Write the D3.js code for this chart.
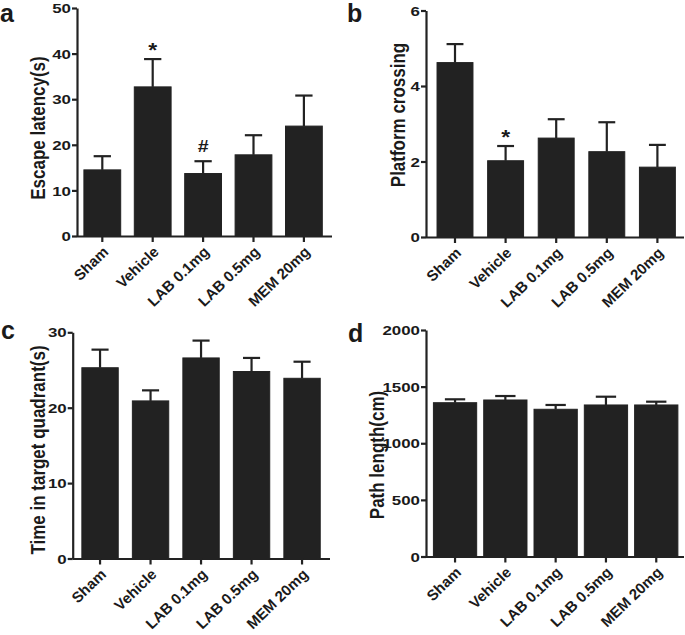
<!DOCTYPE html>
<html>
<head>
<meta charset="utf-8">
<script src="https://cdn.jsdelivr.net/npm/d3@7"></script>
<style>
  body { margin: 0; background: #fff; }
  svg { display: block; }
  text { font-family: "Liberation Sans", Arial, Helvetica, sans-serif; font-weight: bold; fill: #1a1a1a; }
</style>
</head>
<body>
<svg id="chart" width="685" height="635"></svg>
<script>
// ---------------- data ----------------
const categories = ["Sham", "Vehicle", "LAB 0.1mg", "LAB 0.5mg", "MEM 20mg"];

const escapeMean = [14.5, 32.7, 13.7, 17.8, 24.1];
const escapeErr  = [3.0, 6.1, 2.7, 4.3, 6.7];
const escapeTicks = [0, 10, 20, 30, 40, 50];

const crossingMean = [4.62, 2.02, 2.62, 2.26, 1.85];
const crossingErr  = [0.49, 0.39, 0.50, 0.78, 0.59];
const crossingTicks = [0, 2, 4, 6];

const quadrantMean = [25.3, 20.9, 26.6, 24.8, 23.9];
const quadrantErr  = [2.4, 1.4, 2.3, 1.8, 2.2];
const quadrantTicks = [0, 10, 20, 30];

const pathMean = [1358, 1382, 1300, 1338, 1338];
const pathErr  = [30, 35, 38, 73, 29];
const pathTicks = [0, 500, 1000, 1500, 2000];

// significance marks: [category, symbol]
const escapeMarks = [["Vehicle", "*"], ["LAB 0.1mg", "#"]];
const crossingMarks = [["Vehicle", "*"]];

// ---------------- drawing ----------------
const svg = d3.select("#chart");
const ink = "#222222";
const FONT = '"Liberation Sans", Arial, Helvetica, sans-serif';
const SX = 1.15; // horizontal stretch of the original figure's text

function panel(opt) {
  const g = svg.append("g");
  const y = d3.scaleLinear().domain([opt.ticks[0], opt.ticks[opt.ticks.length - 1]])
    .range([opt.y0, opt.y1]);
  const x = d3.scaleBand().domain(categories)
    .range([opt.xStart, opt.xStart + opt.step * categories.length])
    .paddingInner(opt.padIn).paddingOuter(opt.padIn / 2);

  const data = categories.map((c, i) => ({ c, m: opt.mean[i], e: opt.err[i] }));

  // error bars (upper only)
  const capW = x.bandwidth() * 0.47;
  const eb = g.selectAll(".eb").data(data).enter().append("g");
  eb.append("line")
    .attr("x1", d => x(d.c) + x.bandwidth() / 2).attr("x2", d => x(d.c) + x.bandwidth() / 2)
    .attr("y1", d => y(d.m)).attr("y2", d => y(d.m + d.e))
    .attr("stroke", ink).attr("stroke-width", 2.2);
  eb.append("line")
    .attr("x1", d => x(d.c) + x.bandwidth() / 2 - capW / 2)
    .attr("x2", d => x(d.c) + x.bandwidth() / 2 + capW / 2)
    .attr("y1", d => y(d.m + d.e)).attr("y2", d => y(d.m + d.e))
    .attr("stroke", ink).attr("stroke-width", 2.2);

  // bars
  g.selectAll(".bar").data(data).enter().append("rect")
    .attr("x", d => x(d.c)).attr("width", x.bandwidth())
    .attr("y", d => y(d.m)).attr("height", d => y(0) - y(d.m))
    .attr("fill", ink).attr("stroke", ink).attr("stroke-width", 1);

  // y axis
  const ya = g.append("g").attr("transform", `translate(${opt.axisX},0)`)
    .call(d3.axisLeft(y).tickValues(opt.ticks).tickFormat(d3.format("d"))
      .tickSize(5).tickSizeOuter(0).tickPadding(1));
  ya.select(".domain").attr("stroke", ink).attr("stroke-width", 2.2);
  ya.selectAll(".tick line").attr("stroke", ink).attr("stroke-width", 2.2);
  ya.selectAll(".tick text")
    .attr("x", 0).attr("dy", "0.36em")
    .attr("transform", `translate(-6,0) scale(1.3,1)`)
    .style("font-size", "13px").attr("fill", "#1a1a1a")
    .style("font-family", FONT).style("font-weight", "bold");

  // x axis
  const xa = g.append("g").attr("transform", `translate(0,${opt.y0})`)
    .call(d3.axisBottom(x).tickSize(6).tickSizeOuter(0));
  xa.select(".domain").attr("d", `M${opt.axisX},0.5H${opt.axisEnd}`)
    .attr("stroke", ink).attr("stroke-width", 2.2);
  xa.selectAll(".tick line").attr("stroke", ink).attr("stroke-width", 2.2);
  xa.selectAll(".tick text")
    .attr("x", 0).attr("y", 0).attr("dy", 0)
    .attr("text-anchor", "end")
    .attr("transform", `translate(7,17) rotate(-44)`)
    .style("font-size", "15px").attr("fill", "#1a1a1a")
    .style("font-family", FONT).style("font-weight", "bold");

  // y title
  g.append("text")
    .attr("transform", `translate(${opt.titleX},${opt.titleY}) scale(${SX},1) rotate(-90)`)
    .attr("text-anchor", "middle")
    .style("font-size", "17px")
    .text(opt.title);

  // panel letter
  g.append("text").attr("x", opt.letterX).attr("y", opt.letterY)
    .style("font-size", "25px").text(opt.letter);

  // significance marks
  (opt.marks || []).forEach(([c, s]) => {
    const i = categories.indexOf(c);
    const cx = x(c) + x.bandwidth() / 2;
    const cy = y(opt.mean[i] + opt.err[i]) - (s === "*" ? 2 : 9);
    g.append("text")
      .attr("transform", `translate(${cx},${cy}) scale(${SX},1)`)
      .attr("text-anchor", "middle")
      .style("font-size", s === "*" ? "20px" : "17px")
      .text(s);
  });
}

panel({ mean: escapeMean, err: escapeErr, ticks: escapeTicks, marks: escapeMarks,
  y0: 236, y1: 8, axisX: 77, axisEnd: 332, xStart: 77.1, step: 50.4, padIn: 0.27,
  title: "Escape latency(s)", titleX: 45, titleY: 128, letter: "a", letterX: 0, letterY: 22 });

panel({ mean: crossingMean, err: crossingErr, ticks: crossingTicks, marks: crossingMarks,
  y0: 237, y1: 10.5, axisX: 426, axisEnd: 684, xStart: 429.7, step: 50.6, padIn: 0.29,
  title: "Platform crossing", titleX: 405, titleY: 115, letter: "b", letterX: 347, letterY: 22 });

panel({ mean: quadrantMean, err: quadrantErr, ticks: quadrantTicks,
  y0: 558.5, y1: 332.3, axisX: 72.7, axisEnd: 330, xStart: 74.8, step: 50.5, padIn: 0.28,
  title: "Time in target quadrant(s)", titleX: 45, titleY: 450, letter: "c", letterX: 1, letterY: 339 });

panel({ mean: pathMean, err: pathErr, ticks: pathTicks,
  y0: 556.5, y1: 330, axisX: 426, axisEnd: 684, xStart: 429.9, step: 50.3, padIn: 0.14,
  title: "Path length(cm)", titleX: 384, titleY: 455, letter: "d", letterX: 348, letterY: 342 });
</script>
</body>
</html>
